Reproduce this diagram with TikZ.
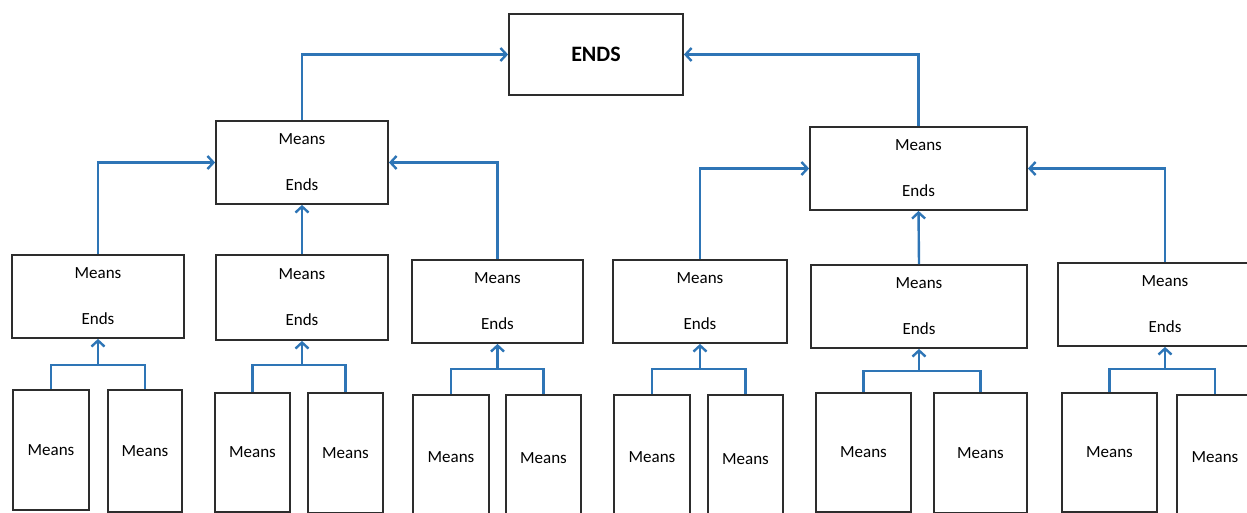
\documentclass[tikz,border=0pt]{standalone}
\usepackage{fontspec}
\setmainfont{Carlito}
\usetikzlibrary{arrows.meta}
\definecolor{linkblue}{RGB}{46,117,182}
\definecolor{boxgray}{RGB}{45,45,45}
\tikzset{
  bx/.style={draw=boxgray,line width=1.8pt,fill=white,inner sep=0pt,align=center,
    font=\fontsize{17}{20}\selectfont},
  mebox/.style={bx},
  conn/.style={draw=linkblue,line width=2.4pt},
  arr/.style={conn,-{Straight Barb[length=6pt,width=13pt,line width=2.4pt]}},
}
\begin{document}
\begin{tikzpicture}[x=1pt,y=-1pt]
\useasboundingbox (0,0) rectangle (1247,513);
\clip (0,0) rectangle (1247,513);
% top
\node[bx,minimum width=174pt,minimum height=81pt,font=\fontsize{22}{24}\selectfont\bfseries] (ends) at (596,54.5) {ENDS};
\node[mebox,minimum width=172pt,minimum height=83pt] (T1) at (302,162.5) {Means\\[26pt]Ends};
\node[mebox,minimum width=217pt,minimum height=83pt] (T2) at (918.5,168.5) {Means\\[26pt]Ends};
% level 2
\node[mebox,minimum width=172pt,minimum height=83pt] (L1) at (98,296.5) {Means\\[26pt]Ends};
\node[mebox,minimum width=172pt,minimum height=85pt] (L2) at (302,297.5) {Means\\[26pt]Ends};
\node[mebox,minimum width=171pt,minimum height=83pt] (L3) at (497.5,301.5) {Means\\[26pt]Ends};
\node[mebox,minimum width=174pt,minimum height=83pt] (L4) at (700,301.5) {Means\\[26pt]Ends};
\node[mebox,minimum width=216pt,minimum height=83pt] (L5) at (919,306.5) {Means\\[26pt]Ends};
\node[mebox,minimum width=214pt,minimum height=83pt] (L6) at (1165,304.5) {Means\\[26pt]Ends};
% bottom
\node[bx,minimum width=76pt,minimum height=120pt] (g1a) at (51,450) {Means};
\node[bx,minimum width=74pt,minimum height=122pt] (g1b) at (145,451) {Means};
\node[bx,minimum width=75pt,minimum height=119pt] (g2a) at (252.5,452.5) {Means};
\node[bx,minimum width=75pt,minimum height=120pt] (g2b) at (345.5,453) {Means};
\node[bx,minimum width=76pt,minimum height=124pt] (g3a) at (451,457) {Means};
\node[bx,minimum width=75pt,minimum height=126pt] (g3b) at (543.5,458) {Means};
\node[bx,minimum width=76pt,minimum height=124pt] (g4a) at (652,457) {Means};
\node[bx,minimum width=75pt,minimum height=128pt] (g4b) at (745.5,459) {Means};
\node[bx,minimum width=95pt,minimum height=119pt] (g5a) at (863.5,452.5) {Means};
\node[bx,minimum width=93pt,minimum height=120pt] (g5b) at (980.5,453) {Means};
\node[bx,minimum width=95pt,minimum height=119pt] (g6a) at (1109.5,452.5) {Means};
\node[bx,minimum width=76pt,minimum height=124pt] (g6b) at (1215,457) {Means};
% junctions
\coordinate (j1) at (98,365);
\coordinate (j2) at (302,365);
\coordinate (j3) at (497.5,369);
\coordinate (j4) at (700,369);
\coordinate (j5) at (919,371);
\coordinate (j6) at (1165,369);
\foreach \g/\p in {1/L1,2/L2,3/L3,4/L4,5/L5,6/L6}{
  \draw[conn] (g\g a.north) |- (j\g) -| (g\g b.north);
  \draw[arr] (j\g) -- (\p.south);
}
% upper connectors
\draw[arr] (L1.north) |- (T1.west);
\draw[arr] (L2.north) -- (T1.south);
\draw[arr] (L3.north) |- (T1.east);
\draw[arr] (L4.north) |- (T2.west);
\draw[arr] (L5.north) -- (T2.south);
\draw[arr] (L6.north) |- (T2.east);
\draw[arr] (T1.north) |- (ends.west);
\draw[arr] (T2.north) |- (ends.east);
\end{tikzpicture}
\end{document}
